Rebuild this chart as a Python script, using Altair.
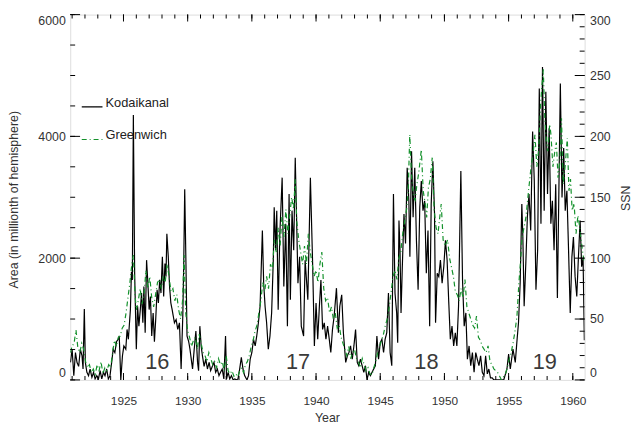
import altair as alt
import pandas as pd

# ---------------- data ----------------
kod_year = [
    1920.87, 1921.00, 1921.13, 1921.26, 1921.38, 1921.51, 1921.64, 1921.77, 1921.85, 1921.95,
    1922.03, 1922.15, 1922.28, 1922.40, 1922.54, 1922.67, 1922.79, 1922.92, 1923.05, 1923.18,
    1923.31, 1923.44, 1923.56, 1923.69, 1923.82, 1923.95, 1924.08, 1924.20, 1924.33, 1924.46,
    1924.59, 1924.67, 1924.79, 1924.92, 1925.03, 1925.18, 1925.28, 1925.38, 1925.54, 1925.62,
    1925.69, 1925.77, 1925.87, 1926.00, 1926.10, 1926.20, 1926.31, 1926.41, 1926.51, 1926.59,
    1926.69, 1926.80, 1926.90, 1927.00, 1927.10, 1927.20, 1927.31, 1927.41, 1927.51, 1927.62,
    1927.72, 1927.82, 1927.92, 1928.03, 1928.13, 1928.23, 1928.31, 1928.38, 1928.49, 1928.59,
    1928.69, 1928.79, 1928.88, 1928.97, 1929.10, 1929.23, 1929.36, 1929.49, 1929.62, 1929.69,
    1929.77, 1929.87, 1929.95, 1930.08, 1930.18, 1930.28, 1930.38, 1930.51, 1930.64, 1930.77,
    1930.85, 1930.95, 1931.05, 1931.15, 1931.28, 1931.41, 1931.54, 1931.67, 1931.79, 1931.92,
    1932.05, 1932.18, 1932.31, 1932.44, 1932.56, 1932.69, 1932.82, 1932.95, 1933.03, 1933.15,
    1933.28, 1933.41, 1933.54, 1933.67, 1933.79, 1933.92, 1934.05, 1934.18, 1934.31, 1934.44,
    1934.62, 1934.74, 1934.87, 1935.00, 1935.13, 1935.26, 1935.38, 1935.51, 1935.64, 1935.82,
    1935.92, 1936.03, 1936.15, 1936.28, 1936.41, 1936.54, 1936.67, 1936.74, 1936.85, 1936.94,
    1937.05, 1937.18, 1937.36, 1937.49, 1937.64, 1937.77, 1937.90, 1938.00, 1938.13, 1938.26,
    1938.38, 1938.51, 1938.59, 1938.72, 1938.85, 1939.03, 1939.15, 1939.36, 1939.56, 1939.74,
    1939.87, 1940.00, 1940.13, 1940.26, 1940.38, 1940.51, 1940.64, 1940.77, 1940.90, 1941.03,
    1941.15, 1941.28, 1941.41, 1941.59, 1941.74, 1941.85, 1942.00, 1942.13, 1942.31, 1942.44,
    1942.56, 1942.69, 1942.82, 1942.95, 1943.08, 1943.21, 1943.33, 1943.46, 1943.59, 1943.72,
    1943.85, 1943.97, 1944.10, 1944.23, 1944.36, 1944.62, 1944.74, 1944.87, 1945.00, 1945.13,
    1945.26, 1945.38, 1945.51, 1945.64, 1945.77, 1945.90, 1946.03, 1946.15, 1946.28, 1946.36,
    1946.46, 1946.54, 1946.62, 1946.72, 1946.85, 1946.97, 1947.10, 1947.23, 1947.31, 1947.44,
    1947.56, 1947.69, 1947.82, 1947.95, 1948.08, 1948.20, 1948.33, 1948.46, 1948.59, 1948.72,
    1948.85, 1948.97, 1949.10, 1949.23, 1949.31, 1949.44, 1949.56, 1949.69, 1949.82, 1949.95,
    1950.08, 1950.21, 1950.33, 1950.46, 1950.59, 1950.72, 1950.85, 1950.97, 1951.10, 1951.28,
    1951.41, 1951.54, 1951.67, 1951.79, 1951.92, 1952.05, 1952.18, 1952.31, 1952.44, 1952.56,
    1952.69, 1952.82, 1952.95, 1953.08, 1953.21, 1953.34, 1953.46, 1953.59, 1953.72, 1953.85,
    1954.11, 1954.36, 1954.62, 1954.87, 1955.00, 1955.13, 1955.34, 1955.52, 1955.64, 1955.77,
    1955.90, 1956.03, 1956.11, 1956.21, 1956.34, 1956.46, 1956.59, 1956.72, 1956.87, 1957.00,
    1957.13, 1957.26, 1957.39, 1957.52, 1957.64, 1957.77, 1957.90, 1958.03, 1958.16, 1958.29,
    1958.41, 1958.54, 1958.67, 1958.80, 1958.93, 1959.03, 1959.16, 1959.29, 1959.41, 1959.54,
    1959.67, 1959.80, 1959.93, 1960.05, 1960.18, 1960.31, 1960.44, 1960.57, 1960.69, 1960.80,
    1960.90,
]
kod_area = [
    288, 504, 70, 450, 288, 222, 504, 396, 179, 1165,
    288, 125, 70, 179, 43, 125, 16, 70, 16, 152,
    16, 125, 70, 179, 16, 70, 288, 504, 450, 629,
    667, 721, 0, 396, 558, 504, 829, 667, 1155, 1778,
    1643, 4350, 1752, 504, 1209, 883, 1155, 1426, 938, 1534,
    775, 1967, 1588, 1155, 1371, 721, 1100, 629, 992, 1480,
    1263, 1643, 1426, 2022, 1371, 1913, 1697, 2401, 2022, 1534,
    1263, 1155, 1046, 938, 992, 829, 938, 179, 1046, 1859,
    3133, 1859, 721, 629, 504, 341, 179, 504, 802, 288,
    152, 883, 558, 396, 222, 341, 179, 288, 152, 222,
    288, 125, 179, 70, 125, 179, 16, 721, 16, 125,
    16, 70, 0, 16, 0, 16, 179, 369, 179, 70,
    0, 70, 341, 450, 667, 558, 721, 938, 1209, 2455,
    1588, 1209, 938, 504, 721, 1100, 1967, 2835, 2130, 2780,
    1154, 2401, 3322, 1534, 2564, 883, 3052, 1317, 2780, 2130,
    3648, 2401, 1588, 2022, 883, 721, 1967, 1317, 3322, 1859,
    558, 1263, 667, 1209, 1642, 829, 938, 667, 883, 667,
    450, 829, 1046, 1507, 775, 1209, 1398, 775, 287, 396,
    450, 558, 341, 558, 829, 287, 233, 341, 233, 125,
    233, 0, 125, 70, 125, 233, 721, 341, 612, 667,
    450, 667, 775, 1426, 450, 233, 3052, 1426, 1100, 612,
    2618, 2130, 1100, 1859, 2726, 2239, 3485, 2943, 2022, 3756,
    2672, 3485, 2293, 1480, 2835, 3268, 2780, 2943, 1751, 2455,
    883, 2889, 3593, 2726, 938, 1751, 1696, 1967, 1588, 1859,
    2293, 1967, 1317, 667, 883, 558, 775, 558, 1209, 3431,
    1642, 883, 1100, 341, 558, 233, 450, 125, 450, 341,
    233, 396, 125, 70, 395, 98, 179, 33, 33, 0,
    0, 0, 0, 179, 423, 179, 505, 287, 612, 938,
    1588, 2889, 2347, 1209, 1913, 2672, 3052, 2455, 4081, 3268,
    1480, 2130, 4786, 2564, 5138, 2780, 4732, 3052, 4135, 2564,
    2943, 2130, 3214, 1344, 3322, 4867, 2997, 3810, 2780, 3106,
    2130, 1100, 2022, 2347, 1696, 1371, 2022, 2618, 1859, 2000,
    650,
]

grn_year = [
    1920.87, 1921.00, 1921.15, 1921.30, 1921.45, 1921.60, 1921.75, 1921.90, 1922.05, 1922.20,
    1922.35, 1922.50, 1922.65, 1922.80, 1922.95, 1923.10, 1923.25, 1923.40, 1923.55, 1923.70,
    1923.85, 1924.00, 1924.15, 1924.30, 1924.45, 1924.60, 1924.75, 1924.90, 1925.05, 1925.20,
    1925.35, 1925.50, 1925.65, 1925.77, 1925.90, 1926.00, 1926.15, 1926.30, 1926.45, 1926.60,
    1926.75, 1926.90, 1927.05, 1927.20, 1927.35, 1927.50, 1927.65, 1927.80, 1927.95, 1928.10,
    1928.25, 1928.40, 1928.55, 1928.70, 1928.85, 1929.00, 1929.15, 1929.30, 1929.45, 1929.60,
    1929.72, 1929.85, 1930.00, 1930.15, 1930.30, 1930.45, 1930.60, 1930.75, 1930.90, 1931.05,
    1931.20, 1931.35, 1931.50, 1931.65, 1931.80, 1931.95, 1932.10, 1932.25, 1932.40, 1932.55,
    1932.70, 1932.85, 1933.00, 1933.15, 1933.30, 1933.45, 1933.60, 1933.75, 1933.90, 1934.05,
    1934.20, 1934.35, 1934.50, 1934.65, 1934.80, 1934.95, 1935.10, 1935.25, 1935.40, 1935.55,
    1935.70, 1935.85, 1936.00, 1936.15, 1936.30, 1936.45, 1936.60, 1936.75, 1936.90, 1937.05,
    1937.20, 1937.35, 1937.50, 1937.65, 1937.80, 1937.95, 1938.10, 1938.25, 1938.38, 1938.50,
    1938.65, 1938.80, 1938.95, 1939.10, 1939.25, 1939.40, 1939.55, 1939.70, 1939.85, 1940.00,
    1940.15, 1940.30, 1940.45, 1940.60, 1940.75, 1940.90, 1941.05, 1941.20, 1941.35, 1941.50,
    1941.65, 1941.80, 1941.95, 1942.10, 1942.25, 1942.40, 1942.55, 1942.70, 1942.85, 1943.00,
    1943.15, 1943.30, 1943.45, 1943.60, 1943.75, 1943.90, 1944.05, 1944.20, 1944.35, 1944.50,
    1944.65, 1944.80, 1944.95, 1945.10, 1945.25, 1945.40, 1945.55, 1945.70, 1945.85, 1946.00,
    1946.15, 1946.30, 1946.45, 1946.60, 1946.75, 1946.90, 1947.05, 1947.18, 1947.30, 1947.45,
    1947.60, 1947.72, 1947.85, 1948.00, 1948.20, 1948.35, 1948.50, 1948.62, 1948.75, 1948.90,
    1949.05, 1949.20, 1949.35, 1949.50, 1949.65, 1949.75, 1949.90, 1950.05, 1950.25, 1950.40,
    1950.55, 1950.70, 1950.85, 1951.00, 1951.15, 1951.30, 1951.45, 1951.60, 1951.75, 1951.90,
    1952.05, 1952.20, 1952.35, 1952.50, 1952.65, 1952.80, 1952.95, 1953.10, 1953.25, 1953.40,
    1953.55, 1953.70, 1953.85, 1954.00, 1954.15, 1954.30, 1954.45, 1954.60, 1954.75, 1954.90,
    1955.05, 1955.20, 1955.35, 1955.50, 1955.65, 1955.80, 1955.95, 1956.05, 1956.20, 1956.35,
    1956.55, 1956.75, 1956.90, 1957.05, 1957.20, 1957.35, 1957.50, 1957.70, 1957.82, 1957.95,
    1958.05, 1958.20, 1958.30, 1958.45, 1958.60, 1958.72, 1958.85, 1959.00, 1959.12, 1959.25,
    1959.40, 1959.57, 1959.70, 1959.82, 1959.95, 1960.10, 1960.25, 1960.40, 1960.50, 1960.65,
    1960.75, 1960.90,
]
grn_area = [
    450, 560, 600, 820, 520, 450, 600, 500, 300, 200,
    250, 120, 180, 90, 250, 150, 300, 100, 200, 150,
    250, 200, 450, 650, 550, 700, 720, 850, 900, 1100,
    1350, 1600, 1900, 2050, 1400, 1150, 1300, 1500, 1250, 1400,
    1800, 1500, 1700, 1350, 1200, 1400, 1600, 1650, 1500, 1700,
    1600, 1900, 1700, 1450, 1500, 1300, 1400, 1150, 1000, 1300,
    2050, 1100, 800, 700, 550, 650, 700, 500, 750, 600,
    450, 400, 300, 450, 350, 250, 300, 200, 350, 250,
    300, 150, 400, 150, 100, 150, 60, 100, 50, 150,
    200, 120, 250, 300, 400, 550, 650, 800, 900, 1100,
    1300, 1600, 1450, 1700, 1500, 1900, 1800, 2300, 2100, 2500,
    2200, 2700, 2350, 2800, 2400, 2700, 3000, 2800, 3300, 2600,
    2300, 2100, 1900, 2200, 1900, 2400, 2100, 1900, 1700, 1800,
    1600, 1900, 2100, 1500, 1300, 1350, 1100, 1200, 1000, 1100,
    850, 900, 700, 600, 500, 400, 550, 350, 450, 500,
    350, 300, 200, 350, 250, 150, 200, 100, 80, 200,
    300, 450, 550, 650, 750, 900, 1000, 1200, 1450, 1700,
    1800, 1650, 2000, 2100, 2400, 2600, 2800, 3100, 4030, 3300,
    3000, 2950, 3200, 3400, 3780, 3100, 2900, 2670, 3150, 3300,
    3650, 2800, 2500, 2400, 2700, 2890, 2300, 2200, 2300, 2000,
    1850, 1700, 1450, 1400, 1300, 1500, 1350, 1650, 1200, 1100,
    1000, 900, 850, 1050, 700, 650, 550, 500, 450, 560,
    300, 250, 180, 150, 120, 60, 0, 50, 100, 200,
    340, 450, 612, 800, 1046, 1588, 2000, 2347, 2500, 2672,
    3100, 3500, 3700, 4027, 3500, 3810, 4570, 5100, 4300, 3900,
    3756, 4200, 4027, 3500, 3756, 3900, 3322, 3600, 4298, 3214,
    3500, 3973, 3106, 3300, 2780, 2900, 2401, 2700, 2564, 2300,
    2130, 1913,
]

series_names = ["Kodaikanal", "Greenwich"]
series_colors = ["#000000", "#13912b"]
series_dash = [[1, 0], [5, 3, 1, 3]]

cycle_labels = ["16", "17", "18", "19"]
cycle_year = [1927.63, 1938.6, 1948.6, 1957.82]
cycle_area = [296, 296, 296, 296]

x_major = [1925, 1930, 1935, 1940, 1945, 1950, 1955, 1960]
x_minor = list(range(1921, 1961))
yl_major = [0, 2000, 4000, 6000]
yl_minor = list(range(0, 6001, 500))
yr_major = [0, 50, 100, 150, 200, 250, 300]
yr_minor = list(range(0, 301, 10))

X_DOMAIN = [1920.85, 1960.92]
YL_DOMAIN = [0, 6000]
YR_DOMAIN = [0, 300]

# ---------------- chart ----------------
W, H = 521, 370
FONT = "Liberation Sans"
TXT = "#333333"

df = pd.concat([
    pd.DataFrame({"year": kod_year, "area": kod_area, "series": "Kodaikanal"}),
    pd.DataFrame({"year": grn_year, "area": grn_area, "series": "Greenwich"}),
], ignore_index=True)
cyc_df = pd.DataFrame({"year": cycle_year, "area": cycle_area, "label": cycle_labels})

xscale = alt.Scale(domain=X_DOMAIN, nice=False, zero=False)
yscale_l = alt.Scale(domain=YL_DOMAIN, nice=False, zero=False)
yscale_r = alt.Scale(domain=YR_DOMAIN, nice=False, zero=False)

# one shared x axis (same definition in every layer so the merge keeps it);
# the frame itself comes from the view stroke
X_AXIS = alt.Axis(
    orient="bottom", values=x_major, format="d", ticks=False, grid=False,
    domain=False, labelPadding=16, labelFont=FONT, labelFontSize=12, labelColor=TXT,
    title="Year", titleFont=FONT, titleFontSize=12.5, titleFontWeight="normal",
    titleColor=TXT, titleX=260, titleY=38, titleBaseline="middle")

leg = dict(orient="none", legendX=10.7, legendY=82, title=None, symbolType="stroke",
           symbolSize=441, symbolStrokeWidth=1.2, labelBaseline="alphabetic",
           labelOffset=2, rowPadding=18, labelFont=FONT, labelFontSize=13,
           labelColor="#222222", padding=0)

lines = alt.Chart(df).mark_line(strokeWidth=1.2, clip=True).encode(
    x=alt.X("year:Q", scale=xscale, axis=X_AXIS, title="Year"),
    y=alt.Y("area:Q", scale=yscale_l, axis=alt.Axis(
        orient="left", values=yl_major, format="d", ticks=False, grid=False,
        domain=False, labelFlush=True,
        labelPadding=5, labelFont=FONT, labelFontSize=12.5, labelColor=TXT,
        title="Area (in millionth of hemisphere)", titleFont=FONT, titleFontSize=12.5,
        titleFontWeight="normal", titleColor=TXT, titleAngle=270,
        titleX=-57, titleY=187, titleBaseline="middle")),
    color=alt.Color("series:N", scale=alt.Scale(domain=series_names, range=series_colors),
                    legend=alt.Legend(**leg)),
    strokeDash=alt.StrokeDash("series:N", scale=alt.Scale(domain=series_names, range=series_dash),
                              legend=alt.Legend(**leg)),
)


# inward tick marks, placed through the scales at the edges of the frame
def xticks(values, length, at_top):
    edge = YL_DOMAIN[1] if at_top else YL_DOMAIN[0]
    shift = length / 2 if at_top else -length / 2
    return alt.Chart(pd.DataFrame({"year": values})).mark_tick(
        orient="vertical", size=length, thickness=1, color="black", opacity=1,
        yOffset=shift).encode(
        x=alt.X("year:Q", scale=xscale, axis=X_AXIS, title="Year"),
        y=alt.YDatum(edge, scale=yscale_l, axis=None))


def yticks(values, length, yscale, at_right, axis=None):
    edge = X_DOMAIN[1] if at_right else X_DOMAIN[0]
    shift = -length / 2 if at_right else length / 2
    return alt.Chart(pd.DataFrame({"year": [edge] * len(values), "v": values})).mark_tick(
        orient="horizontal", size=length, thickness=1, color="black", opacity=1,
        xOffset=shift).encode(
        x=alt.X("year:Q", scale=xscale, axis=X_AXIS, title="Year"),
        y=alt.Y("v:Q", scale=yscale, axis=axis))


right_axis = alt.Axis(orient="right", values=yr_major, format="d", ticks=False, grid=False,
                      domain=False, labelFlush=True, labelPadding=5, labelFont=FONT,
                      labelFontSize=12.5, labelColor=TXT,
                      title="SSN", titleFont=FONT, titleFontSize=12.5, titleFontWeight="normal",
                      titleColor=TXT, titleAngle=270, titleX=41, titleY=185.5,
                      titleBaseline="middle")

tick_layers = [
    xticks(x_major, 7, False), xticks(x_minor, 4, False),
    xticks(x_major, 7, True), xticks(x_minor, 4, True),
    yticks(yl_major, 10, yscale_l, False), yticks(yl_minor, 5, yscale_l, False),
    yticks(yr_major, 10, yscale_r, True, right_axis), yticks(yr_minor, 5, yscale_r, True),
]

cycles = alt.Chart(cyc_df).mark_text(font=FONT, fontSize=22, color="#3a3a3a",
                                     align="center", baseline="middle").encode(
    x=alt.X("year:Q", scale=xscale, axis=X_AXIS, title="Year"),
    y=alt.Y("area:Q", scale=yscale_l, axis=None),
    text="label:N",
)

chart = alt.layer(lines, *tick_layers, cycles).resolve_scale(
    y="independent"
).resolve_axis(
    y="independent"
).properties(
    width=W, height=H,
    autosize=alt.AutoSizeParams(type="none"),
    padding={"left": 63, "top": 4, "right": 48, "bottom": 44},
).configure_view(stroke="black", strokeWidth=1).configure(background="white")

chart.save("out.html", embed_options={"renderer": "svg", "actions": False})
